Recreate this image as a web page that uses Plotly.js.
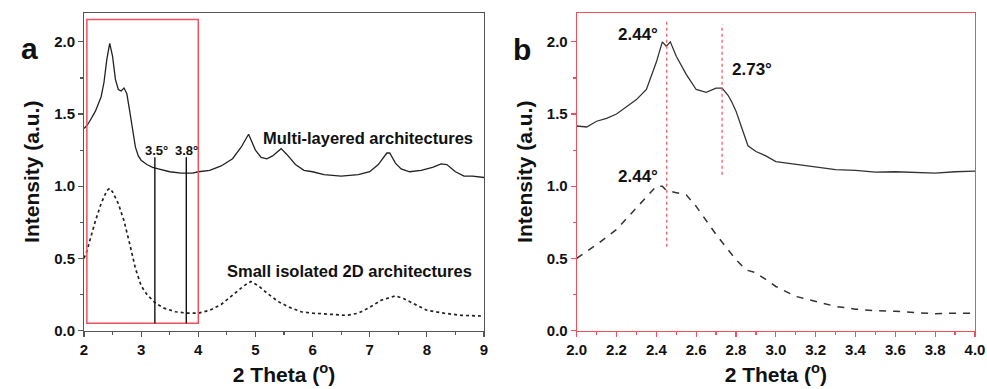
<!DOCTYPE html>
<html>
<head>
<meta charset="utf-8">
<script src="https://cdn.plot.ly/plotly-3.0.1.min.js"></script>
<style>html,body{margin:0;padding:0;background:#fff;}#chart{width:987px;height:389px;}</style>
</head>
<body>
<div id="chart"></div>
<script>
// Panel a: multi-layered architectures (solid)
const aMultiX = [2.0,2.05,2.1,2.2,2.3,2.35,2.4,2.45,2.5,2.55,2.6,2.65,2.7,2.75,2.8,2.85,2.9,2.95,3.0,3.1,3.2,3.3,3.4,3.5,3.7,3.9,4.0,4.2,4.4,4.6,4.75,4.88,5.0,5.1,5.2,5.3,5.45,5.55,5.7,5.85,6.0,6.2,6.5,6.8,7.0,7.15,7.3,7.35,7.45,7.55,7.7,7.9,8.1,8.25,8.35,8.5,8.65,8.8,9.0];
const aMultiY = [1.40,1.42,1.45,1.52,1.62,1.72,1.88,1.99,1.90,1.74,1.67,1.66,1.68,1.64,1.52,1.38,1.27,1.21,1.18,1.15,1.13,1.12,1.11,1.10,1.09,1.09,1.10,1.11,1.14,1.19,1.27,1.36,1.25,1.20,1.19,1.21,1.26,1.22,1.15,1.11,1.10,1.08,1.07,1.08,1.10,1.15,1.23,1.23,1.16,1.12,1.10,1.11,1.13,1.155,1.15,1.10,1.07,1.07,1.06];
// Panel a: small isolated 2D architectures (dashed)
const aSmallX = [2.0,2.05,2.1,2.2,2.3,2.4,2.45,2.5,2.6,2.7,2.8,2.9,3.0,3.1,3.25,3.4,3.6,3.8,4.0,4.2,4.4,4.6,4.8,4.92,5.05,5.2,5.4,5.6,5.8,6.0,6.3,6.6,6.8,7.0,7.2,7.45,7.6,7.8,8.0,8.3,8.6,9.0];
const aSmallY = [0.50,0.55,0.62,0.76,0.88,0.97,0.985,0.96,0.88,0.76,0.60,0.43,0.31,0.25,0.19,0.155,0.13,0.12,0.12,0.14,0.18,0.245,0.31,0.34,0.31,0.26,0.20,0.16,0.13,0.12,0.11,0.105,0.12,0.16,0.21,0.24,0.22,0.18,0.14,0.12,0.105,0.10];
// Panel b: zoom 2-4 degrees
const bMultiX = [2.0,2.05,2.1,2.15,2.2,2.25,2.3,2.35,2.4,2.43,2.45,2.47,2.5,2.55,2.6,2.65,2.7,2.73,2.76,2.78,2.8,2.83,2.86,2.9,2.95,3.0,3.1,3.2,3.3,3.4,3.5,3.6,3.7,3.8,3.9,4.0];
const bMultiY = [1.417,1.41,1.45,1.47,1.50,1.55,1.60,1.67,1.86,2.0,1.97,2.0,1.90,1.775,1.67,1.65,1.68,1.68,1.63,1.58,1.52,1.40,1.28,1.24,1.21,1.17,1.15,1.13,1.115,1.11,1.097,1.10,1.097,1.09,1.10,1.105];
const bSmallX = [2.0,2.1,2.2,2.3,2.4,2.43,2.45,2.5,2.55,2.6,2.7,2.8,2.85,2.9,3.0,3.1,3.2,3.3,3.4,3.5,3.6,3.7,3.8,3.9,4.0];
const bSmallY = [0.50,0.595,0.70,0.85,1.0,1.0,0.97,0.955,0.94,0.86,0.665,0.49,0.42,0.40,0.305,0.236,0.20,0.167,0.148,0.137,0.133,0.125,0.116,0.12,0.12];
// Tick labels
const aXTicks = [2,3,4,5,6,7,8,9];
const bXTicks = [2.0,2.2,2.4,2.6,2.8,3.0,3.2,3.4,3.6,3.8,4.0];
const yTicks = [0, 0.5, 1.0, 1.5, 2.0];
// Marker lines
const aMarkX = [3.24, 3.79];
const aMarkLabels = ['3.5°', '3.8°'];
const bPeakX = [2.452, 2.73];

const lineCol = '#222';
const redCol = '#f0505e';
const fam = 'Liberation Sans, Arial, sans-serif';
const font = {family: fam, size: 14, color: '#111', weight: 'bold'};
const bold = v => '<b>' + v + '</b>';

const traces = [
  {x: aMultiX, y: aMultiY, xaxis: 'x', yaxis: 'y', mode: 'lines', line: {color: lineCol, width: 1.3}},
  {x: aSmallX, y: aSmallY, xaxis: 'x', yaxis: 'y', mode: 'lines', line: {color: lineCol, width: 1.7, dash: '3px,3px'}},
  {x: bMultiX, y: bMultiY, xaxis: 'x2', yaxis: 'y2', mode: 'lines', line: {color: '#333', width: 1.3}},
  {x: bSmallX, y: bSmallY, xaxis: 'x2', yaxis: 'y2', mode: 'lines', line: {color: '#333', width: 1.5, dash: '7px,7px'}}
];

const axBase = {
  showgrid: false, zeroline: false, showline: true, mirror: true,
  ticks: 'outside', ticklen: 5, tickwidth: 1.2,
  tickfont: {family: fam, size: 15, color: '#111', weight: 'bold'}
};
const titleFont = {family: fam, size: 21, color: '#111', weight: 'bold'};

const shapes = [
  {type: 'rect', xref: 'x', yref: 'y', x0: 2.05, x1: 4.0, y0: 0.05, y1: 2.155, line: {color: redCol, width: 1.5}},
];
aMarkX.forEach(v => shapes.push({type: 'line', xref: 'x', yref: 'y', x0: v, x1: v, y0: 0.05, y1: 1.2, line: {color: '#111', width: 1.4}}));
shapes.push({type: 'line', xref: 'x2', yref: 'y2', x0: bPeakX[0], x1: bPeakX[0], y0: 0.58, y1: 2.15, line: {color: redCol, width: 1.2, dash: 'dot'}});
shapes.push({type: 'line', xref: 'x2', yref: 'y2', x0: bPeakX[1], x1: bPeakX[1], y0: 1.08, y1: 2.12, line: {color: redCol, width: 1.2, dash: 'dot'}});

const ann = (text, x, y, xref, yref, size) => ({text: bold(text), x, y, xref, yref, showarrow: false, font: {family: fam, size, color: '#111', weight: 'bold'}});

const annotations = [
  ann('a', 19/987, 1 - 30/389, 'paper', 'paper', 30),
  ann('b', 522/987, 1 - 31/389, 'paper', 'paper', 30),
  ann('Multi-layered architectures', 6.97, 1.335, 'x', 'y', 16.5),
  ann('Small isolated 2D architectures', 6.64, 0.41, 'x', 'y', 16.5),
  ann(aMarkLabels[0], 3.26, 1.25, 'x', 'y', 13),
  ann(aMarkLabels[1], 3.80, 1.25, 'x', 'y', 13),
  ann('2.44°', 2.308, 2.05, 'x2', 'y2', 17),
  ann('2.44°', 2.308, 1.07, 'x2', 'y2', 17),
  ann('2.73°', 2.88, 1.81, 'x2', 'y2', 17)
];

const layout = {
  width: 987, height: 389,
  margin: {l: 0, r: 0, t: 0, b: 0},
  paper_bgcolor: '#fff', plot_bgcolor: '#fff',
  showlegend: false,
  font: font,
  xaxis: Object.assign({}, axBase, {
    domain: [84/987, 484/987], range: [2, 9],
    tickvals: aXTicks, ticktext: aXTicks.map(v => bold(String(v))),
    linecolor: '#555', tickcolor: '#555',
    minor: {dtick: 0.5, ticks: 'outside', ticklen: 3, tickcolor: '#555'},
    title: {text: bold('2 Theta (<sup>o</sup>)'), font: titleFont, standoff: 10}
  }),
  yaxis: Object.assign({}, axBase, {
    domain: [1 - 330.5/389, 1 - 13/389], range: [0, 2.2],
    tickvals: yTicks, ticktext: yTicks.map(v => bold(v.toFixed(1))),
    linecolor: '#555', tickcolor: '#555',
    minor: {dtick: 0.25, ticks: 'outside', ticklen: 3, tickcolor: '#555'},
    title: {text: bold('Intensity (a.u.)'), font: titleFont, standoff: 8}
  }),
  xaxis2: Object.assign({}, axBase, {
    anchor: 'y2',
    domain: [576.7/987, 975/987], range: [2, 4],
    tickvals: bXTicks, ticktext: bXTicks.map(v => bold(v.toFixed(1))),
    linecolor: redCol, tickcolor: redCol,
    minor: {dtick: 0.1, ticks: 'outside', ticklen: 3, tickcolor: redCol},
    title: {text: bold('2 Theta (<sup>o</sup>)'), font: titleFont, standoff: 10}
  }),
  yaxis2: Object.assign({}, axBase, {
    anchor: 'x2',
    domain: [1 - 330.5/389, 1 - 13/389], range: [0, 2.2],
    tickvals: yTicks, ticktext: yTicks.map(v => bold(v.toFixed(1))),
    linecolor: redCol, tickcolor: redCol,
    minor: {dtick: 0.25, ticks: 'outside', ticklen: 3, tickcolor: redCol},
    title: {text: bold('Intensity (a.u.)'), font: titleFont, standoff: 8}
  }),
  shapes: shapes,
  annotations: annotations
};

Plotly.newPlot('chart', traces, layout, {displayModeBar: false, staticPlot: true});
</script>
</body>
</html>
